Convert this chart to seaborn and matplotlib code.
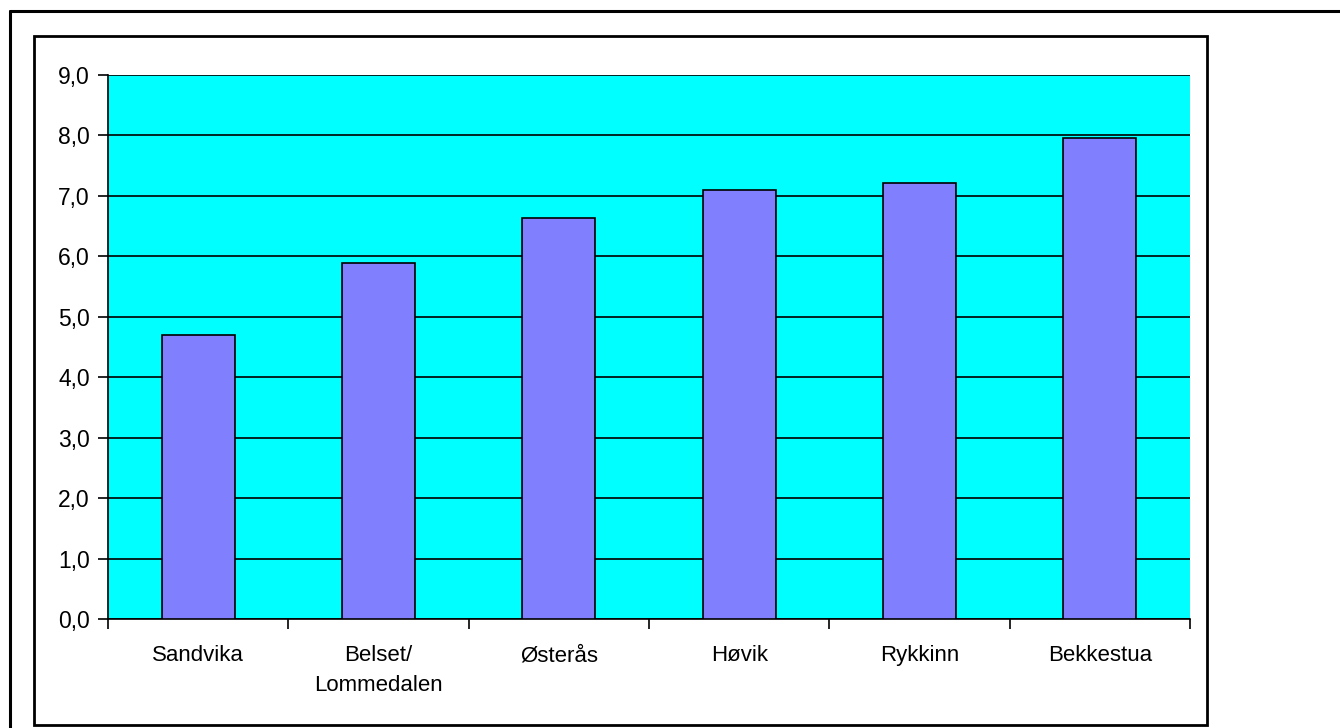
import matplotlib
matplotlib.use("Agg")
import matplotlib.pyplot as plt
import seaborn as sns
import pandas as pd
from matplotlib.lines import Line2D
from matplotlib.patches import Rectangle
from matplotlib.ticker import FuncFormatter, MultipleLocator

categories = ["Sandvika", "Belset/\nLommedalen", "Østerås", "Høvik", "Rykkinn", "Bekkestua"]
values = [4.70, 5.89, 6.64, 7.10, 7.22, 7.96]

sns.set_theme(style="white")
plt.rcParams['font.family'] = ['Liberation Sans', 'DejaVu Sans']

W, H = 1340, 728
fig = plt.figure(figsize=(W / 100, H / 100), dpi=100)
fig.patch.set_facecolor("white")

ax = fig.add_axes([108 / W, (H - 619) / H, 1082 / W, 544 / H])
df = pd.DataFrame({"cat": categories, "val": values})
sns.barplot(data=df, x="cat", y="val", ax=ax, color="#8080FF", saturation=1,
            edgecolor="black", linewidth=1.2, width=0.405, zorder=3)
ax.set_facecolor("#00FFFF")
ax.set_xlim(-0.5, len(categories) - 0.5)
ax.set_ylim(0, 9)
ax.yaxis.set_major_locator(MultipleLocator(1))
ax.yaxis.set_major_formatter(FuncFormatter(lambda v, p: f"{v:.1f}".replace(".", ",")))
ax.grid(axis="y", color="black", linewidth=1.2, zorder=1)
ax.set_axisbelow(True)
ax.set_xlabel("")
ax.set_ylabel("")

# x ticks at category boundaries, labels centered
ax.set_xticks([i - 0.5 for i in range(len(categories) + 1)], minor=False)
ax.set_xticklabels([""] * (len(categories) + 1))
ax.set_xticks(range(len(categories)), minor=True)
ax.set_xticklabels(categories, minor=True, fontsize=16, color="black", linespacing=1.55)
ax.tick_params(axis="x", which="major", direction="out", length=7, width=1.2, color="black", bottom=True)
ax.tick_params(axis="x", which="minor", length=0, pad=19)
ax.tick_params(axis="y", direction="out", length=7, width=1.2, color="black", left=True, labelsize=16.5, pad=6, labelcolor="black")

for s in ["top", "right"]:
    ax.spines[s].set_visible(False)
for s in ["left", "bottom"]:
    ax.spines[s].set_color("black")
    ax.spines[s].set_linewidth(1.2)

# outer frames
fig.add_artist(Line2D([10 / W, 1], [1 - 11 / H, 1 - 11 / H], color="black", linewidth=2.2, transform=fig.transFigure))
fig.add_artist(Line2D([10 / W, 10 / W], [0, 1 - 11 / H], color="black", linewidth=2.2, transform=fig.transFigure))
fig.add_artist(Rectangle((34 / W, (H - 725) / H), (1207 - 34) / W, (725 - 36) / H,
                         fill=False, edgecolor="black", linewidth=2, transform=fig.transFigure))

fig.savefig("out.png", dpi=100)
